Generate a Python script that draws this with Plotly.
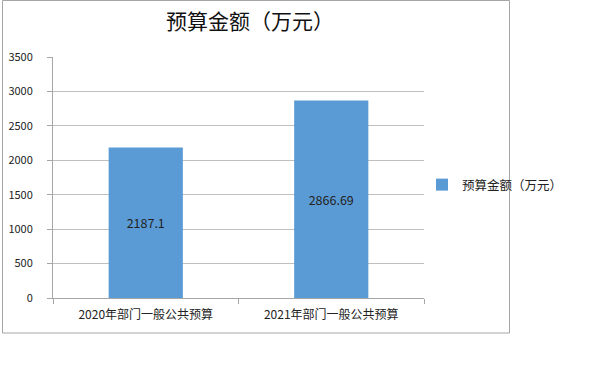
import plotly.graph_objects as go

categories = ["2020年部门一般公共预算", "2021年部门一般公共预算"]
values = [2187.1, 2866.69]
value_labels = ["2187.1", "2866.69"]
series_name = "预算金额（万元）"
title_text = "预算金额（万元）"

W, H = 600, 371
L, R, T, B = 53, 176, 57, 73
pw = W - L - R
ph = H - T - B

def px_x(p):
    return (p - L) / pw

def px_y(p):
    return (H - B - p) / ph

font_cjk = "Noto Sans CJK SC, sans-serif"

fig = go.Figure()
fig.add_trace(go.Bar(
    x=categories, y=values, name=series_name,
    marker=dict(color="#5B9BD5", line=dict(width=0)),
    width=0.4,
    text=value_labels, textposition="inside", insidetextanchor="middle",
    textfont=dict(family=font_cjk, size=12.5, color="#222222"),
    showlegend=True,
))

fig.update_layout(
    width=W, height=H,
    margin=dict(l=L, r=R, t=T, b=B, autoexpand=False),
    paper_bgcolor="white", plot_bgcolor="white",
    title=dict(text=title_text, x=250 / W, xanchor="center", y=1 - 22 / H, yanchor="middle",
               font=dict(family=font_cjk, size=21, color="#111111")),
    showlegend=True,
    legend=dict(x=px_x(422), y=px_y(185), xanchor="left", yanchor="middle",
                font=dict(family=font_cjk, size=12.5, color="#222222"),
                itemwidth=30, bgcolor="rgba(0,0,0,0)"),
    xaxis=dict(
        showline=True, linecolor="#A6A6A6", linewidth=1,
        ticks="outside", tickson="boundaries", ticklen=5, tickcolor="#A6A6A6",
        tickfont=dict(family=font_cjk, size=12, color="#222222"),
        ticklabelstandoff=6,
        showgrid=False, fixedrange=True,
    ),
    yaxis=dict(
        range=[0, 3500], dtick=500, tick0=0,
        showline=True, linecolor="#A6A6A6", linewidth=1,
        ticks="outside", ticklen=5, tickcolor="#A6A6A6",
        showgrid=True, gridcolor="#BFBFBF", gridwidth=1,
        tickfont=dict(family=font_cjk, size=11, color="#222222"),
        ticklabelstandoff=12,
        zeroline=False, fixedrange=True,
    ),
    shapes=[dict(type="rect", xref="paper", yref="paper",
                 x0=px_x(2.5), x1=px_x(509.5), y0=px_y(0.5), y1=px_y(333),
                 line=dict(color="#A6A6A6", width=1), fillcolor="rgba(0,0,0,0)", layer="below")],
)

fig.write_html("out.html")
